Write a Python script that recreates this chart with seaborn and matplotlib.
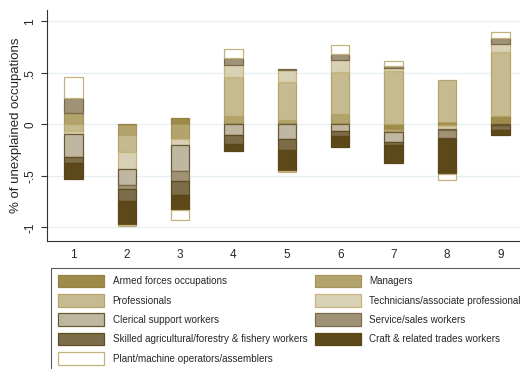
import numpy as np
import pandas as pd
import matplotlib
matplotlib.use("Agg")
import matplotlib.pyplot as plt
from matplotlib.patches import Patch
import seaborn as sns

# Groups on the x axis
groups = ["1", "2", "3", "4", "5", "6", "7", "8", "9"]

# Occupation categories (stacking order)
occupations = [
    "Armed forces occupations",
    "Managers",
    "Professionals",
    "Technicians/associate professionals",
    "Clerical support workers",
    "Service/sales workers",
    "Skilled agricultural/forestry & fishery workers",
    "Craft & related trades workers",
    "Plant/machine operators/assemblers",
]

# Contribution of each occupation to the unexplained share, per group
armed = [0.0, -0.01, 0.065, 0.01, 0.015, 0.01, -0.045, 0.022, 0.08]
managers = [0.109, -0.095, -0.14, 0.067, 0.025, 0.087, -0.025, -0.02, 0.0]
professionals = [-0.065, -0.16, 0.0, 0.38, 0.37, 0.408, 0.515, 0.413, 0.625]
technicians = [-0.025, -0.167, -0.058, 0.123, 0.113, 0.123, 0.033, -0.028, 0.075]
clerical = [-0.232, -0.155, -0.258, -0.1, -0.14, -0.065, -0.103, -0.01, -0.01]
service = [0.145, -0.04, -0.097, 0.064, 0.012, 0.055, 0.022, -0.074, 0.055]
skilled = [-0.058, -0.12, -0.138, -0.087, -0.113, -0.048, -0.026, -0.01, -0.045]
craft = [-0.154, -0.226, -0.142, -0.073, -0.2, -0.106, -0.177, -0.34, -0.05]
plant = [0.203, -0.01, -0.097, 0.087, -0.01, 0.09, 0.042, -0.063, 0.058]

series = [armed, managers, professionals, technicians, clerical,
          service, skilled, craft, plant]

fills = ["#9e8a4a", "#b3a36d", "#c6ba91", "#d9d1b6", "#c0b7a3",
         "#9f9275", "#7d6c4a", "#5d4819", "#ffffff"]
edges = ["#96823f", "#a8955a", "#b5a46a", "#c7b57f", "#6a5a33",
         "#7a6a48", "#5f4d22", "#5a4516", "#c4b27c"]

sns.set_style("ticks")
plt.rcParams["font.family"] = ["Liberation Sans", "DejaVu Sans"]

W, H = 520, 369
fig = plt.figure(figsize=(W / 100, H / 100), dpi=100)
ax = fig.add_axes([46.7 / W, 128 / H, (527 - 46.7) / W, 231 / H])

# Positive parts stack upward from zero, negative parts downward
vals = np.array(series, dtype=float)
pos = np.where(vals > 0, vals, 0.0)
neg = np.where(vals < 0, vals, 0.0)
pos_base = np.vstack([np.zeros(len(groups)), np.cumsum(pos, axis=0)[:-1]])
neg_base = np.vstack([np.zeros(len(groups)), np.cumsum(neg, axis=0)[:-1]])
base = np.where(vals >= 0, pos_base, neg_base)

g_arr = np.array(groups)
for i, name in enumerate(occupations):
    mask = vals[i] != 0
    df = pd.DataFrame({"group": g_arr[mask], "value": vals[i][mask]})
    sns.barplot(data=df, x="group", y="value", order=groups,
                bottom=base[i][mask], color=fills[i], saturation=1,
                edgecolor=edges[i], linewidth=0.9, width=0.345,
                errorbar=None, ax=ax, zorder=2)

ax.set_xlim(-0.5, 8.5)
ax.set_ylim(-1.133, 1.11)
yt = [-1, -0.5, 0, 0.5, 1]
ax.set_yticks(yt)
ax.set_yticklabels(["-1", "-.5", "0", ".5", "1"], rotation=90, va="center",
                   fontsize=8.5)
ax.tick_params(axis="y", length=4.5, width=0.8, pad=3, color="#333333")
ax.tick_params(axis="x", length=0, pad=5.5, labelsize=8.5)
ax.set_xlabel("")
ax.set_ylabel("% of unexplained occupations", fontsize=9.5, labelpad=2)

ax.set_axisbelow(True)
ax.yaxis.grid(True, color="#e6eff1", linewidth=0.9)
ax.xaxis.grid(False)
for s in ["top", "right"]:
    ax.spines[s].set_visible(False)
for s in ["left", "bottom"]:
    ax.spines[s].set_color("#333333")
    ax.spines[s].set_linewidth(0.8)

# Legend filled row by row across two columns
handles = [Patch(facecolor=f, edgecolor=e, linewidth=0.9)
           for f, e in zip(fills, edges)]
order = list(range(0, 9, 2)) + list(range(1, 9, 2))
leg = fig.legend([handles[k] for k in order], [occupations[k] for k in order],
                 loc="upper left", bbox_to_anchor=(51 / W, 1 - 267.7 / H),
                 bbox_transform=fig.transFigure, ncol=2, fontsize=7.1,
                 frameon=True, fancybox=False, edgecolor="#333333",
                 handlelength=4.7, handleheight=1.58, handletextpad=0.85,
                 labelspacing=0.7, borderpad=0.7, columnspacing=0.75,
                 borderaxespad=0)
leg.get_frame().set_linewidth(0.8)

fig.savefig("out.png", dpi=100)
